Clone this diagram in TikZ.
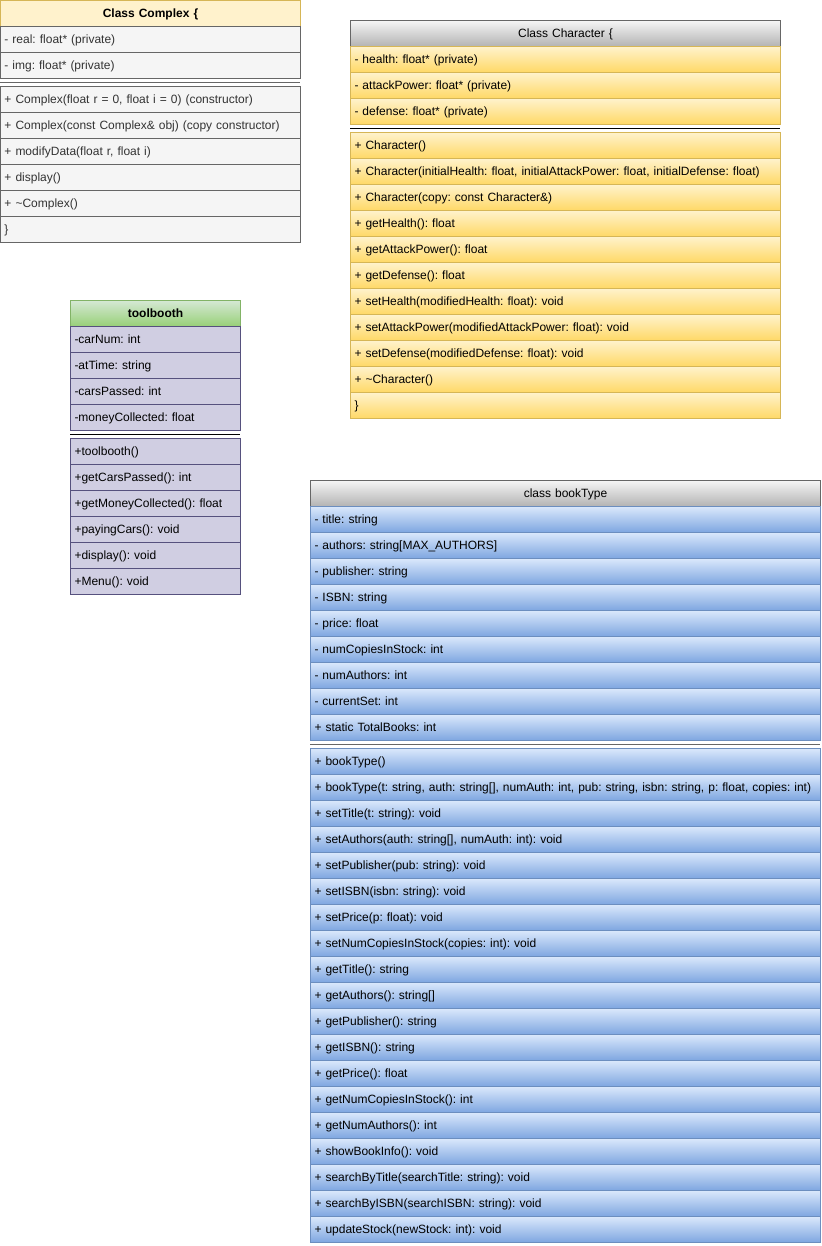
\documentclass[tikz,border=0pt]{standalone}
\usepackage{fontspec}
\setmainfont{Liberation Sans}
\definecolor{cxhead}{HTML}{FFF2CC}
\definecolor{cxheadline}{HTML}{D6B656}
\definecolor{cxrow}{HTML}{F5F5F5}
\definecolor{cxline}{HTML}{666666}
\definecolor{cxtext}{HTML}{333333}
\definecolor{chtop}{HTML}{FFF2CC}
\definecolor{chbot}{HTML}{FFD966}
\definecolor{grtop}{HTML}{F5F5F5}
\definecolor{grbot}{HTML}{B3B3B3}
\definecolor{tbtop}{HTML}{D5E8D4}
\definecolor{tbbot}{HTML}{97D077}
\definecolor{tbline}{HTML}{82B366}
\definecolor{tbrow}{HTML}{D0CEE2}
\definecolor{tbrowline}{HTML}{56517E}
\definecolor{bttop}{HTML}{DAE8FC}
\definecolor{btbot}{HTML}{7EA6E0}
\definecolor{btline}{HTML}{6C8EBF}
\frenchspacing
\begin{document}
\begin{tikzpicture}[x=1pt,y=1pt,
  font=\fontsize{12}{14}\selectfont\frenchspacing,
  cell/.style={anchor=north west, minimum height=26pt, inner xsep=4pt, inner ysep=0pt, align=left, line width=1pt, text height=8.6pt, text depth=0pt},
  hcell/.style={cell, align=center},
  sepcell/.style={anchor=north west, minimum height=8pt, inner sep=0pt, fill=white},
  cxrowst/.style={cell, fill=cxrow, draw=cxline, text=cxtext, text width=292pt},
  cxheadst/.style={hcell, fill=cxhead, draw=cxheadline, text width=292pt, font=\fontsize{12}{14}\selectfont\frenchspacing\bfseries},
  chrowst/.style={cell, top color=chtop, bottom color=chbot, draw=cxheadline, text width=422pt},
  chheadst/.style={hcell, top color=grtop, bottom color=grbot, draw=cxline, text width=422pt},
  tbrowst/.style={cell, fill=tbrow, draw=tbrowline, text width=162pt},
  tbheadst/.style={hcell, top color=tbtop, bottom color=tbbot, draw=tbline, text width=162pt, font=\fontsize{12}{14}\selectfont\frenchspacing\bfseries},
  btrowst/.style={cell, top color=bttop, bottom color=btbot, draw=btline, text width=502pt},
  btheadst/.style={hcell, top color=grtop, bottom color=grbot, draw=cxline, text width=502pt},
  sepline/.style={line width=1pt}
]
\useasboundingbox (0,0) rectangle (821,-1246);

% ---------------- Class Complex
\node[sepcell, minimum width=300pt] (cxs) at (0,-78) {};
\draw[sepline, cxline] (cxs.west) -- (cxs.east);
\node[cxheadst] (cxh) at (0,0) {Class Complex \{};
\foreach [count=\i from 0] \t in {{- real: float* (private)},{- img: float* (private)}}
  \node[cxrowst] (cxa\i) at (0,{-26-26*\i}) {\t};
\foreach [count=\i from 0] \t in {{+ Complex(float r = 0, float i = 0) (constructor)},{+ Complex(const Complex\& obj) (copy constructor)},{+ modifyData(float r, float i)},{+ display()},{+ \textasciitilde Complex()},{\}}}
  \node[cxrowst] (cxm\i) at (0,{-86-26*\i}) {\t};

% ---------------- Class Character
\node[sepcell, minimum width=430pt] (chs) at (350,-124) {};
\draw[sepline, black] (chs.west) -- (chs.east);
\node[chheadst] (chh) at (350,-20) {Class Character \{};
\foreach [count=\i from 0] \t in {{- health: float* (private)},{- attackPower: float* (private)},{- defense: float* (private)}}
  \node[chrowst] (cha\i) at (350,{-46-26*\i}) {\t};
\foreach [count=\i from 0] \t in {{+ Character()},{+ Character(initialHealth: float, initialAttackPower: float, initialDefense: float)},{+ Character(copy: const Character\&)},{+ getHealth(): float},{+ getAttackPower(): float},{+ getDefense(): float},{+ setHealth(modifiedHealth: float): void},{+ setAttackPower(modifiedAttackPower: float): void},{+ setDefense(modifiedDefense: float): void},{+ \textasciitilde Character()},{\}}}
  \node[chrowst] (chm\i) at (350,{-132-26*\i}) {\t};

% ---------------- toolbooth
\node[sepcell, minimum width=170pt] (tbs) at (70,-430) {};
\draw[sepline, black] (tbs.west) -- (tbs.east);
\node[tbheadst] (tbh) at (70,-300) {toolbooth};
\foreach [count=\i from 0] \t in {{-carNum: int},{-atTime: string},{-carsPassed: int},{-moneyCollected: float}}
  \node[tbrowst] (tba\i) at (70,{-326-26*\i}) {\t};
\foreach [count=\i from 0] \t in {{+toolbooth()},{+getCarsPassed(): int},{+getMoneyCollected(): float},{+payingCars(): void},{+display(): void},{+Menu(): void}}
  \node[tbrowst] (tbm\i) at (70,{-438-26*\i}) {\t};

% ---------------- class bookType
\node[sepcell, minimum width=510pt] (bts) at (310,-740) {};
\draw[sepline, cxline] (bts.west) -- (bts.east);
\node[btheadst] (bth) at (310,-480) {class bookType};
\foreach [count=\i from 0] \t in {{- title: string},{- authors: string[MAX\_AUTHORS]},{- publisher: string},{- ISBN: string},{- price: float},{- numCopiesInStock: int},{- numAuthors: int},{- currentSet: int},{+ static TotalBooks: int}}
  \node[btrowst] (bta\i) at (310,{-506-26*\i}) {\t};
\foreach [count=\i from 0] \t in {{+ bookType()},{+ bookType(t: string, auth: string[], numAuth: int, pub: string, isbn: string, p: float, copies: int)},{+ setTitle(t: string): void},{+ setAuthors(auth: string[], numAuth: int): void},{+ setPublisher(pub: string): void},{+ setISBN(isbn: string): void},{+ setPrice(p: float): void},{+ setNumCopiesInStock(copies: int): void},{+ getTitle(): string},{+ getAuthors(): string[]},{+ getPublisher(): string},{+ getISBN(): string},{+ getPrice(): float},{+ getNumCopiesInStock(): int},{+ getNumAuthors(): int},{+ showBookInfo(): void},{+ searchByTitle(searchTitle: string): void},{+ searchByISBN(searchISBN: string): void},{+ updateStock(newStock: int): void}}
  \node[btrowst] (btm\i) at (310,{-748-26*\i}) {\t};
\end{tikzpicture}
\end{document}
